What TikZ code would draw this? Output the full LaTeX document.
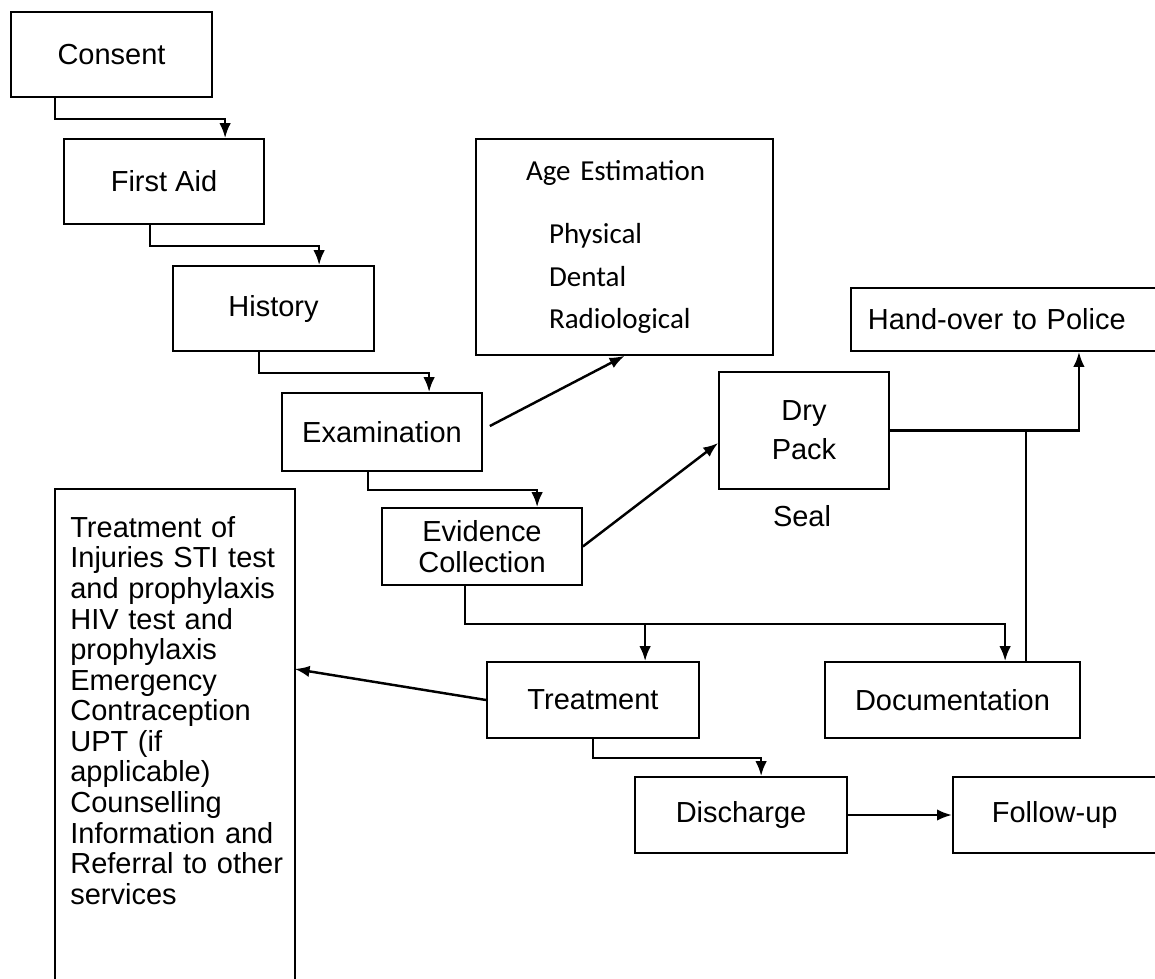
\documentclass[tikz,border=0pt]{standalone}
\usepackage{fontspec}
\setmainfont{Liberation Sans}
\newfontfamily\agefont{Carlito}
\usetikzlibrary{positioning, arrows.meta}

\begin{document}
\begin{tikzpicture}[>={Latex[length=8.5pt,width=6.5pt]}, x=0.02cm, y=-0.02cm,
            font=\fontsize{16.5}{17.4}\selectfont,
            box/.style={draw, line width=1pt, inner sep=0pt, align=center},
            link/.style={line width=1.4pt}]
            \useasboundingbox (0,0) rectangle (1155,978);
            % main steps
            \node[box, minimum width=4.02cm, minimum height=1.7cm] (consent) at (111.5,54.5) {Consent};
            \node[box, minimum width=4cm, minimum height=1.7cm] (firstaid) at (164,181.5) {First Aid};
            \node[box, minimum width=4.02cm, minimum height=1.7cm] (history) at (273.5,308.5) {History};
            \node[box, minimum width=4cm, minimum height=1.56cm] (exam) at (382,432) {Examination};
            \node[box, minimum width=4cm, minimum height=1.54cm] (evidence) at (482,546.5) {Evidence\\Collection};
            \node[box, minimum width=4.24cm, minimum height=1.52cm] (treatment) at (593,700) {Treatment};
            \node[box, minimum width=5.1cm, minimum height=1.52cm] (docu) at (952.5,700) {Documentation};
            \node[box, minimum width=4.24cm, minimum height=1.52cm] (discharge) at (741,815) {Discharge};
            \node[box, anchor=west, align=left, inner xsep=.78cm, text width=3.5cm, minimum height=1.52cm] (followup) at (952,815) {Follow-up};

            % side boxes
            \node[box, minimum width=5.94cm, minimum height=4.32cm, align=left, inner xsep=1cm, text width=3.94cm,
                  font=\agefont\fontsize{16.5}{24.2}\selectfont] (age) at (624.5,247)
                  {Age Estimation\\[.41cm]\hspace*{.46cm}Physical\\\hspace*{.46cm}Dental\\\hspace*{.46cm}Radiological};
            \node[box, minimum width=3.4cm, minimum height=2.34cm] (dry) at (804,430.5) {Dry\\[.17cm]Pack};
            \node (seal) at (802,516) {Seal};
            \node[box, anchor=west, align=left, inner xsep=.34cm, text width=6cm, minimum height=1.26cm] (police) at (850,319.5) {Hand-over to Police};

            \node[anchor=north west, inner xsep=.3cm, inner ysep=.54cm, text width=4.6cm, align=left] (care) at (55,489)
                  {Treatment of\\Injuries STI test\\and prophylaxis\\HIV test and\\prophylaxis\\Emergency\\Contraception\\UPT (if\\applicable)\\Counselling\\Information and\\Referral to other\\services};
            \draw[line width=1pt] (care.north west) rectangle ([xshift=-.42cm, yshift=-3cm]care.south east);

            % connectors
            \draw[link,->] ([xshift=.9cm]consent.south west) -- ++(0,21) -| ([xshift=3.24cm]firstaid.north west);
            \draw[link,->] ([xshift=1.74cm]firstaid.south west) -- ++(0,21) -| ([xshift=2.94cm]history.north west);
            \draw[link,->] ([xshift=1.74cm]history.south west) -- ++(0,21) -| ([xshift=2.96cm]exam.north west);
            \draw[link,->] ([xshift=1.74cm]exam.south west) -- ++(0,18) -| ([xshift=3.12cm]evidence.north west);
            \draw[link,->] ([xshift=1.68cm]evidence.south west) -- ++(0,38) coordinate (split) -| ([xshift=3.62cm]docu.north west);
            \coordinate (tin) at ([xshift=3.18cm]treatment.north west);
            \draw[link,->] (tin |- split) -- (tin);
            \draw[link,->] (treatment.south) -- ++(0,19) -| ([xshift=2.54cm]discharge.north west);
            \draw[link,->] (discharge.east) -- (followup.west);
            \draw[link,->] ([shift={(.14cm,.12cm)}]exam.east) -- (age.south);
            \draw[link,->] (evidence.east) -- ([yshift=-.25cm]dry.west);
            \draw[link,->] (treatment.west) -- ([xshift=-.42cm, yshift=-3.6cm]care.north east);
            \draw[link,->] (dry.east) -| ([xshift=4.58cm]police.south west);
            \coordinate (docup) at ([xshift=4.04cm]docu.north west);
            \draw[link] (docup) -- (docup |- dry.east);
\end{tikzpicture}
\end{document}
